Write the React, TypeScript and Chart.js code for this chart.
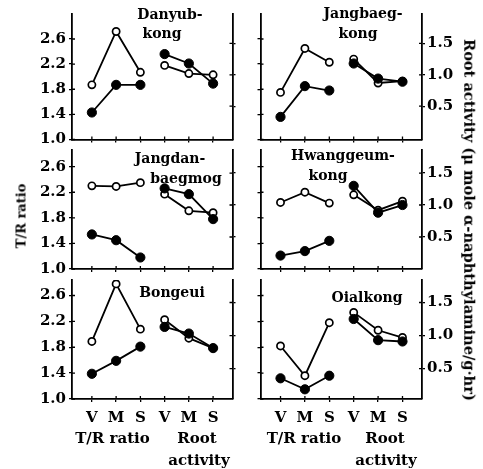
import React, { useEffect, useRef } from 'react';
import { Chart, registerables } from 'chart.js';
Chart.register(...registerables);

// ---------- data ----------
const stages = ['V', 'M', 'S'];
const trTickValues = [1.0, 1.4, 1.8, 2.2, 2.6];
const raTickValues = [0.5, 1.0, 1.5];

const cultivars = ['Danyub-kong', 'Jangbaeg-kong', 'Jangdan-baegmog', 'Hwanggeum-kong', 'Bongeui', 'Oialkong'];
const titleLines = [
  ['Danyub-', 'kong'],
  ['Jangbaeg-', 'kong'],
  ['Jangdan-', 'baegmog'],
  ['Hwanggeum-', 'kong'],
  ['Bongeui'],
  ['Oialkong'],
];

// T/R ratio (open and filled symbols), per cultivar, V M S
const trOpen = [
  [1.87, 2.72, 2.07],
  [1.75, 2.45, 2.23],
  [2.30, 2.29, 2.35],
  [2.04, 2.20, 2.03],
  [1.89, 2.78, 2.08],
  [1.82, 1.36, 2.18],
];
const trFilled = [
  [1.43, 1.87, 1.87],
  [1.36, 1.85, 1.78],
  [1.54, 1.45, 1.18],
  [1.21, 1.28, 1.44],
  [1.39, 1.59, 1.81],
  [1.32, 1.15, 1.36],
];
// Root activity (μ mole α-naphthylamine/g·hr)
const raOpen = [
  [1.15, 1.02, 1.00],
  [1.25, 0.87, 0.90],
  [1.17, 0.91, 0.88],
  [1.16, 0.92, 1.06],
  [1.24, 0.96, 0.81],
  [1.35, 1.08, 0.97],
];
const raFilled = [
  [1.33, 1.18, 0.86],
  [1.18, 0.94, 0.89],
  [1.26, 1.17, 0.78],
  [1.30, 0.88, 1.00],
  [1.13, 1.03, 0.81],
  [1.25, 0.93, 0.91],
];

// ---------- layout ----------
const W = 483;
const H = 469;
const AXW = 50;
const AXH = 30;
const FONT = '"DejaVu Serif", serif';
const COLS = [[72, 232.5], [260.5, 422]];
const ROWS = [[13.9, 139.5], [150, 269], [280, 399]];
const ROW_TR_MAX = [3.0, 2.86, 2.84];
const ROW_RA_MIN = [-0.03, 0.0, 0.04];
const ROW_RA_MAX = [1.97, 1.86, 1.84];
const X_MIN = -0.82;
const X_MAX = 5.8;
const INNER_TICK = 3;

const TITLE_POS = [
  [[170, 14], [162, 33]],
  [[363, 13], [358, 33]],
  [[170, 158], [186, 178]],
  [[343, 155], [328, 175]],
  [[172, 292]],
  [[367, 297]],
];

// draws the inner half of each tick so ticks cross the axis line
const innerTicks = {
  id: 'innerTicks',
  afterDraw(chart: any) {
    const { ctx, chartArea: a, scales } = chart;
    ctx.save();
    ctx.strokeStyle = '#000';
    ctx.lineWidth = 1.3;
    ctx.beginPath();
    scales.x.ticks.forEach((t: any) => {
      const px = scales.x.getPixelForValue(t.value);
      ctx.moveTo(px, a.bottom);
      ctx.lineTo(px, a.bottom - INNER_TICK);
    });
    scales.y.ticks.forEach((t: any) => {
      const py = scales.y.getPixelForValue(t.value);
      ctx.moveTo(a.left, py);
      ctx.lineTo(a.left + INNER_TICK, py);
    });
    scales.y2.ticks.forEach((t: any) => {
      const py = scales.y2.getPixelForValue(t.value);
      ctx.moveTo(a.right, py);
      ctx.lineTo(a.right - INNER_TICK, py);
    });
    ctx.stroke();
    ctx.restore();
  },
};

function Panel({ idx }: { idx: number }) {
  const ref = useRef<HTMLCanvasElement>(null);
  useEffect(() => {
    const row = Math.floor(idx / 2);
    const col = idx % 2;
    const [pl, pr] = COLS[col];
    const [pt, pb] = ROWS[row];
    const bottomRow = row === 2;
    const xLabels = [...stages, ...stages];
    const mk = (vals: number[], off: number) => vals.map((v, i) => ({ x: off + i, y: v }));
    const ds = (label: string, vals: number[], off: number, axis: string, filled: boolean) => ({
      label,
      data: mk(vals, off),
      yAxisID: axis,
      borderColor: '#000',
      borderWidth: 1.8,
      pointRadius: filled ? 4.6 : 3.6,
      pointBackgroundColor: filled ? '#000' : '#fff',
      pointBorderColor: '#000',
      pointBorderWidth: filled ? 1 : 1.7,
      order: filled ? 0 : 1,
      tension: 0,
      fill: false,
    });
    const font = { family: FONT, size: 15, weight: 'bold' as const };
    const grid = { drawOnChartArea: false, drawTicks: true, tickLength: 3, color: '#000', lineWidth: 1.3 };
    const border = { display: true, color: '#000', width: 1.8 };
    const chart = new Chart(ref.current!, {
      type: 'line',
      data: {
        datasets: [
          ds(cultivars[idx] + ' T/R open', trOpen[idx], 0, 'y', false),
          ds(cultivars[idx] + ' T/R filled', trFilled[idx], 0, 'y', true),
          ds(cultivars[idx] + ' root open', raOpen[idx], 3, 'y2', false),
          ds(cultivars[idx] + ' root filled', raFilled[idx], 3, 'y2', true),
        ] as any,
      },
      options: {
        animation: false,
        responsive: false,
        layout: { padding: { left: pl - AXW, right: W - pr - AXW, top: pt, bottom: H - pb - AXH } },
        plugins: { legend: { display: false }, tooltip: { enabled: false } },
        scales: {
          x: {
            type: 'linear',
            min: X_MIN,
            max: X_MAX,
            afterBuildTicks: (s: any) => { s.ticks = [0, 1, 2, 3, 4, 5].map((v) => ({ value: v })); },
            afterFit: (s: any) => { s.height = AXH; },
            ticks: { display: bottomRow, callback: (v: any) => xLabels[v] ?? '', font, color: '#000', padding: 7, maxRotation: 0, autoSkip: false },
            grid,
            border,
          },
          y: {
            type: 'linear',
            position: 'left',
            min: 1.0,
            max: ROW_TR_MAX[row],
            afterBuildTicks: (s: any) => { s.ticks = trTickValues.map((v) => ({ value: v })); },
            afterFit: (s: any) => { s.width = AXW; },
            ticks: { display: col === 0, callback: (v: any) => Number(v).toFixed(1), font, color: '#000', padding: 3 },
            grid,
            border,
          },
          y2: {
            type: 'linear',
            position: 'right',
            min: ROW_RA_MIN[row],
            max: ROW_RA_MAX[row],
            afterBuildTicks: (s: any) => { s.ticks = raTickValues.map((v) => ({ value: v })); },
            afterFit: (s: any) => { s.width = AXW; },
            ticks: { display: col === 1, callback: (v: any) => Number(v).toFixed(1), font, color: '#000', padding: 2 },
            grid,
            border,
          },
        },
      } as any,
      plugins: [innerTicks],
    });
    return () => chart.destroy();
  }, [idx]);
  return <canvas ref={ref} width={W} height={H} style={{ position: 'absolute', left: 0, top: 0, width: W, height: H }} />;
}

const textStyle = (x: number, y: number, size: number, rot = 0): React.CSSProperties => ({
  position: 'absolute',
  left: x,
  top: y,
  transform: `translate(-50%, -50%)${rot ? ` rotate(${rot}deg)` : ''}`,
  fontFamily: FONT,
  fontWeight: 'bold',
  fontSize: size,
  lineHeight: 1,
  whiteSpace: 'nowrap',
  color: '#000',
});

export default function App() {
  return (
    <div style={{ position: 'fixed', left: 0, top: 0, width: W, height: H, background: '#fff', overflow: 'hidden' }}>
      {cultivars.map((c, i) => <Panel key={c} idx={i} />)}
      {titleLines.map((lines, i) =>
        lines.map((t, j) => (
          <div key={`${i}-${j}`} style={textStyle(TITLE_POS[i][j][0], TITLE_POS[i][j][1], 14)}>{t}</div>
        ))
      )}
      <div style={textStyle(21, 216, 13, -90)}>T/R ratio</div>
      <div style={textStyle(469, 220, 14.6, 90)}>Root activity (μ mole α-naphthylamine/g·hr)</div>
      <div style={textStyle(112.5, 438, 15)}>T/R ratio</div>
      <div style={textStyle(197, 438, 15)}>Root</div>
      <div style={textStyle(199, 460, 15)}>activity</div>
      <div style={textStyle(304, 438, 15)}>T/R ratio</div>
      <div style={textStyle(385, 438, 15)}>Root</div>
      <div style={textStyle(386, 460, 15)}>activity</div>
    </div>
  );
}
